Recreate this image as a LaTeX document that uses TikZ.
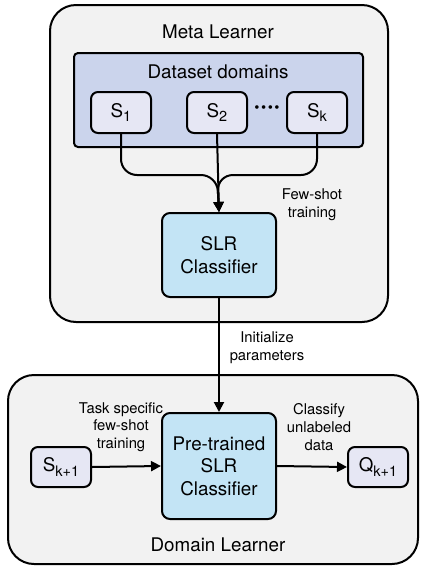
\documentclass[tikz,border=0pt]{standalone}
\usepackage{fontspec}
\setmainfont{TeX Gyre Heros}
\usetikzlibrary{arrows.meta}

\definecolor{panelgray}{RGB}{242,242,242}
\definecolor{domainblue}{RGB}{203,212,236}
\definecolor{setlilac}{RGB}{230,231,244}
\definecolor{slrblue}{RGB}{195,228,245}

\newcommand{\lowsub}[1]{\raisebox{-0.45ex}{\fontsize{14.5}{14.5}\selectfont #1}}

\tikzset{
  panel/.style={draw, line width=2pt, fill=panelgray, rounded corners=26pt},
  domainbox/.style={draw, line width=2pt, fill=domainblue, rounded corners=4pt},
  setbox/.style={draw, line width=2pt, fill=setlilac, rounded corners=7pt,
    minimum width=60pt, minimum height=41pt, font=\fontsize{18.8}{22}\selectfont},
  slrbox/.style={draw, line width=2pt, fill=slrblue, rounded corners=8pt,
    minimum width=114pt, align=center, font=\fontsize{18.8}{22.5}\selectfont},
  title/.style={font=\fontsize{18.8}{22}\selectfont},
  note/.style={align=center, font=\fontsize{14.8}{17.8}\selectfont},
  link/.style={line width=2pt, -{Triangle[length=10pt,width=10pt]}}
}

\begin{document}
\begin{tikzpicture}[x=1pt,y=1pt,yscale=-1]
\useasboundingbox (0,0) rectangle (425,566);

%Shape: Meta learner panel
\node [panel, minimum width=338pt, minimum height=317pt] (meta) at (219,163.5) {};
% Text Node
\node [title] (metatitle) at (218,32) {Meta Learner};

%Shape: Dataset domains
\node [domainbox, minimum width=289pt, minimum height=94pt] (domains) at (218.5,100) {};
% Text Node
\node [title] (domaintitle) at (218,72) {Dataset domains};

%Shape: support sets
\node [setbox] (s1) at (121,112.5) {S\lowsub{1}};
\node [setbox] (s2) at (217,112.5) {S\lowsub{2}};
\node [setbox] (sk) at (317,112.5) {S\lowsub{k}};
\node [font=\fontsize{24}{24}\selectfont\bfseries] (dots) at (267,110) {····};

%Shape: SLR classifier
\node [slrbox, minimum height=84pt] (slr) at (219,255) {SLR\\Classifier};

%Straight Lines
\coordinate (merge) at (217,175);
\draw [link, rounded corners=16pt] (s1.south) |- (merge) -- (slr.north);
\draw [link, rounded corners=16pt] (sk.south) |- (merge) -- (slr.north);
\draw [link] (s2.south) -- (slr.north);

% Text Node
\node [note] (fewshot) at (312,204.5) {Few-shot\\training};

%Shape: Domain learner panel
\node [panel, minimum width=410pt, minimum height=189pt] (domain) at (213,469.5) {};
% Text Node
\node [title] (domaintitle2) at (218,545) {Domain Learner};

%Shape: pre-trained classifier
\node [slrbox, minimum height=106pt] (pre) at (219,466) {Pre-trained\\SLR\\Classifier};
\node [setbox, minimum height=40pt] (snew) at (61,467) {S\lowsub{k+1}};
\node [setbox, minimum height=40pt] (qnew) at (378,467) {Q\lowsub{k+1}};

%Straight Lines
\draw [link] (slr.south) -- (pre.north);
\draw [link] (snew.east) -- (pre.west);
\draw [link] (pre.east) -- (qnew.west);

% Text Node
\node [note] (init) at (267,348) {Initialize\\parameters};
\node [note] (task) at (121,427) {Task specific\\few-shot\\training};
\node [note] (classify) at (319,427) {Classify\\unlabeled\\data};

\end{tikzpicture}
\end{document}
